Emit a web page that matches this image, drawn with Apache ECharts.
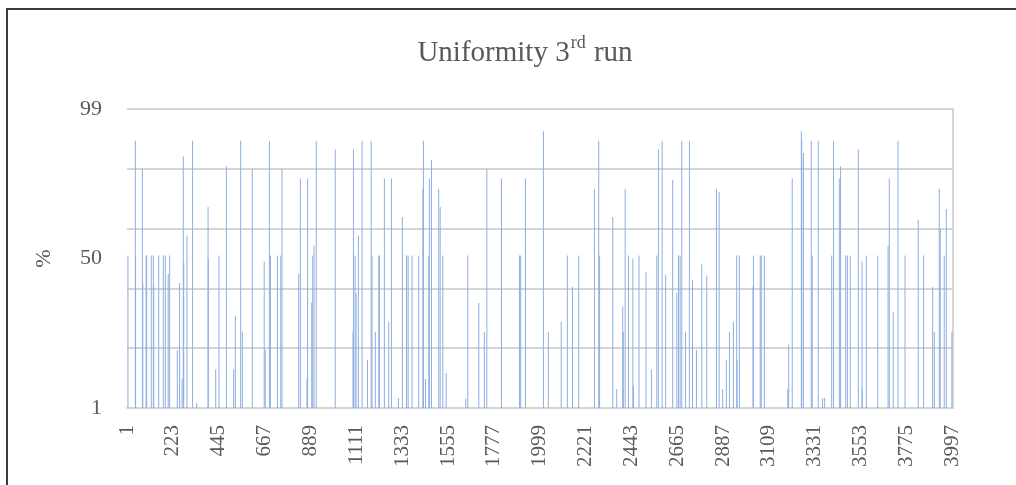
<!DOCTYPE html>
<html>
<head>
<meta charset="utf-8">
<script src="https://cdn.jsdelivr.net/npm/echarts@6/dist/echarts.min.js"></script>
<style>
html,body{margin:0;padding:0;width:1016px;height:485px;overflow:hidden;background:#fff;}
#frame{position:absolute;left:6px;top:8px;width:1100px;height:600px;border:2px solid #3a3a3a;}
#chart{position:absolute;left:0;top:0;width:1016px;height:485px;}
</style>
</head>
<body>
<div id="frame"></div>
<div id="chart"></div>
<script>
// Number of sample categories on the x axis (1 .. 4000)
const categoryCount = 4000;
// Categories (sample numbers) that carry a non-empty value
const spikeCategory = [5,41,42,75,77,93,96,118,128,130,154,176,186,200,207,244,255,267,273,275,291,318,338,393,394,430,446,482,517,525,551,559,607,665,670,690,695,729,745,751,832,840,872,875,895,900,906,917,1009,
1095,1097,1105,1110,1121,1139,1165,1183,1187,1203,1220,1223,1247,1268,1281,1315,1334,1354,1362,1381,1413,1433,1436,1446,1462,1465,1475,1510,1517,1530,1546,1641,1651,1704,1731,1743,1814,1901,1907,1930,2017,2041,
2103,2133,2158,2188,2264,2285,2289,2353,2372,2401,2404,2413,2429,2450,2453,2480,2514,2540,2566,2574,2592,2609,2643,2663,2671,2679,2687,2705,2724,2739,2758,2784,2808,2855,2868,2885,2903,2918,2937,2953,2955,2966,3032,3034,
3067,3072,3087,3200,3205,3222,3266,3268,3276,3314,3319,3348,3369,3379,3413,3422,3450,3456,3481,3489,3503,3542,3560,3561,3581,3636,3686,3692,3711,3734,3768,3832,3858,3902,3910,3934,3939,3958,3968,3995];
// Uniformity (%) at those categories
const spikeValue = [51,88.6,51,79.3,42,51,51,51,51,41,51,51,51,45,51,20,42,10.5,83.4,49,57.5,88.6,2.6,66.9,50,13.6,51,80.2,13.6,31.3,88.6,26,79.3,49,20,88.6,51,51,51,79.3,45,76.2,10.5,76.2,35.6,51,54.3,88.6,85.7,
26,85.7,51,38.7,57.5,88.6,16.8,88.6,51,26,51,51,76.2,29.2,76.2,4.3,63.6,51,51,51,51,72.9,88.6,10.5,51,76.2,82.3,72.9,66.9,51,12.5,4.1,51,35.4,26,79.3,76.2,51,51,76.2,91.7,26,
29.2,51,40.7,51,72.9,88.6,51,63.6,7.2,34.3,26,72.9,51,50,8.3,51,45.6,13.6,51,85.7,88.6,44.7,75.7,38.7,51,51,88.6,26,88.6,43,20,48,44.4,72.9,71.8,7.2,16.8,26,29.2,51,16.8,51,40.7,51,
51,51,51,7.2,21.8,76.2,91.7,88.6,84.6,88.6,51,88.6,4.3,4.3,51,88.6,76.2,80.2,51,51,51,85.7,49,7.2,51,51,54.3,76.2,32.4,88.6,51,62.7,51,40.7,26,72.9,59.7,51,66.2,26];
// Y axis tick labels shown
const yTickLabels = [1, 50, 99];
const titleText = 'Uniformity 3';
const titleSup = 'rd';
const titleTail = ' run';

const categories = [];
const values = [];
for (let i = 1; i <= categoryCount; i++) { categories.push(String(i)); values.push('-'); }
spikeCategory.forEach((c, k) => { values[c - 1] = spikeValue[k]; });

const font = '"Liberation Serif", "Times New Roman", serif';
const chart = echarts.init(document.getElementById('chart'), null, {renderer: 'canvas'});
chart.setOption({
  animation: false,
  title: {
    text: '{a|' + titleText + '}{s|' + titleSup + '}{a|' + titleTail + '}',
    left: 520, top: 29, textAlign: 'center',
    textStyle: {
      fontWeight: 'normal',
      rich: {
        a: {fontFamily: font, fontSize: 29, fontWeight: 'normal', color: '#595959', lineHeight: 34, verticalAlign: 'bottom'},
        s: {fontFamily: font, fontSize: 18, fontWeight: 'normal', color: '#595959', lineHeight: 34, verticalAlign: 'top', padding: [0, 1, 15, 1]}
      }
    }
  },
  grid: {left: 127, right: 63, top: 109, bottom: 77, containLabel: false},
  xAxis: {
    type: 'category',
    data: categories,
    boundaryGap: true,
    axisLine: {show: true, lineStyle: {color: '#d4d4d4', width: 2}},
    axisTick: {show: false},
    axisLabel: {
      interval: 221, rotate: 90, margin: 17,
      fontFamily: font, fontSize: 21, color: '#595959'
    },
    splitLine: {show: false}
  },
  yAxis: [
    {
      type: 'value', min: 1, max: 99, interval: 19.6,
      axisLine: {show: false}, axisTick: {show: false},
      axisLabel: {show: false},
      splitLine: {show: true, lineStyle: {color: '#d4d4d4', width: 2}},
      name: '%', nameLocation: 'middle', nameGap: 72, nameRotate: 90,
      nameTextStyle: {fontFamily: font, fontSize: 22, color: '#595959'}
    },
    {
      type: 'value', min: 1, max: 99, interval: 49, position: 'left',
      axisLine: {show: false}, axisTick: {show: false},
      axisLabel: {show: true, margin: 25, fontFamily: font, fontSize: 22, color: '#595959',
        customValues: yTickLabels},
      splitLine: {show: false}
    },
    {
      type: 'value', min: 1, max: 99, position: 'right',
      axisLine: {show: true, lineStyle: {color: '#d4d4d4', width: 2}},
      axisTick: {show: false}, axisLabel: {show: false}, splitLine: {show: false}
    }
  ],
  series: [{
    type: 'bar',
    yAxisIndex: 0,
    data: values,
    barWidth: 1,
    barGap: '0%',
    itemStyle: {color: '#8eaee3'},
    silent: true
  }]
});
</script>
</body>
</html>
